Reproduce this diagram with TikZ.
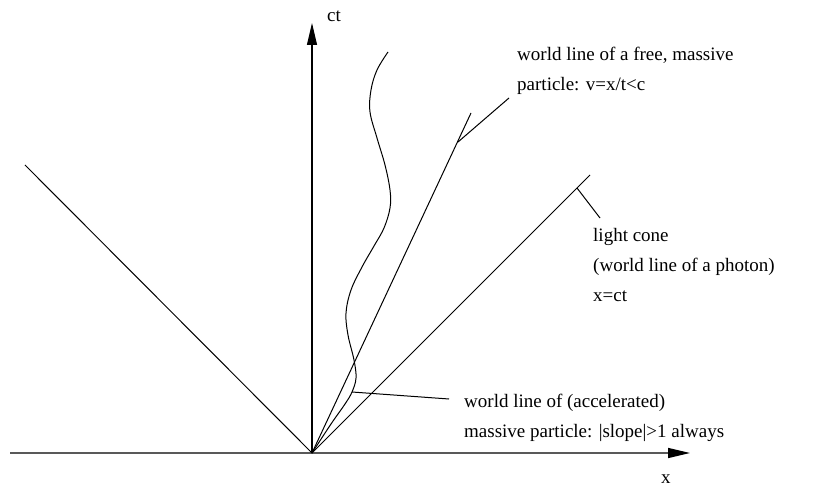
\documentclass[tikz,border=0pt]{standalone}
\usepackage{fontspec}
\setmainfont{Liberation Serif}
\usetikzlibrary{arrows.meta}
\begin{document}
\begin{tikzpicture}[x=1pt,y=-1pt,
  wline/.style={line width=1pt, black},
  xaxis/.style={line width=1.5pt, black!65, -{Triangle[length=22pt,width=10pt,color=black]}},
  ctaxis/.style={line width=1.1pt, black, -{Triangle[length=22pt,width=10pt]}},
  lbl/.style={font=\fontsize{19}{30}\selectfont, align=left, inner sep=0pt, anchor=north west},
  axlbl/.style={font=\fontsize{19}{30}\selectfont, inner sep=0pt, anchor=base west}]
\useasboundingbox (0,0) rectangle (835,486);
% coordinates
\coordinate (O) at (312,453);
\coordinate (xs) at (10,453);
\coordinate (xe) at (690,453);
\coordinate (cte) at (312,23);
\coordinate (lcL) at (25,165);
\coordinate (lcR) at (590,175);
\coordinate (fr) at (471,113);
\coordinate (pf1) at (458,142);
\coordinate (pf2) at (509,98);
\coordinate (pl1) at (577,188);
\coordinate (pl2) at (600,218);
\coordinate (pa1) at (352,392);
\coordinate (pa2) at (449,399);
% axes
\draw[xaxis] (xs) -- (xe);
\draw[ctaxis] (O) -- (cte);
\node[axlbl] (ctl) at (327,22) {ct};
\node[axlbl] (xl) at (661,483) {x};
% light cone
\draw[wline] (lcL) -- (O) -- (lcR);
% free particle
\draw[wline] (O) -- (fr);
% accelerated particle
\draw[wline] plot[smooth, tension=0.6] coordinates {(312,453) (331,424) (345,404) (352,392) (356,378) (354,360) (348,335) (346,313) (351,290) (362,267) (374,246) (384,228) (390,208) (390,190) (385,165) (377,138) (370,112) (371,90) (377,70) (388,52)};
% pointers
\draw[wline] (pf1) -- (pf2);
\draw[wline] (pl1) -- (pl2);
\draw[wline] (pa1) -- (pa2);
% labels
\node[lbl] (lfree) at (517,47) {world line of a free, massive\\particle: v=x/t<c};
\node[lbl] (llight) at (593,228) {light cone\\(world line of a photon)\\x=ct};
\node[lbl] (lacc) at (464,394) {world line of (accelerated)\\massive particle: |slope|>1 always};
\end{tikzpicture}
\end{document}
